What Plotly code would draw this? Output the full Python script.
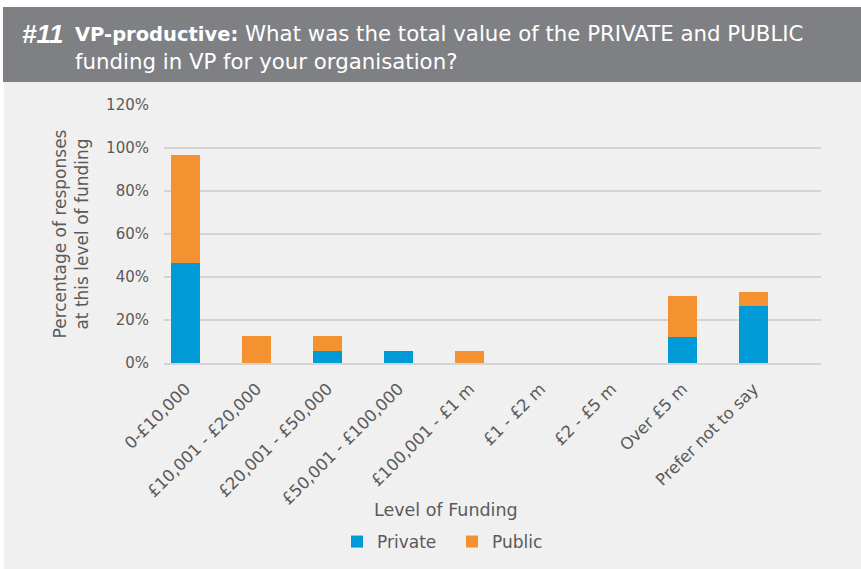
import plotly.graph_objects as go

# Funding bands and share of responses (%) at each level
categories = ["0-£10,000", "£10,001 - £20,000", "£20,001 - £50,000", "£50,001 - £100,000",
              "£100,001 - £1 m", "£1 - £2 m", "£2 - £5 m", "Over £5 m", "Prefer not to say"]
private_pct = [46.7, 0, 5.8, 5.8, 0, 0, 0, 12.3, 26.6]
public_pct = [50.0, 12.7, 6.9, 0, 5.8, 0, 0, 19.0, 6.5]
y_ticks = [0, 20, 40, 60, 80, 100, 120]
y_tick_text = [f"{v}%" for v in y_ticks]

W, H = 861, 569
L, R, T, B = 164, 40, 105, 206
pw, ph = W - L - R, H - T - B

def px(x):
    return (x - L) / pw

def py(y):
    return (H - B - y) / ph

FONT = "DejaVu Sans"
TXT = "#5a5a5a"

fig = go.Figure()
fig.add_trace(go.Bar(name="Private", x=categories, y=private_pct, marker_color="#009bd7",
                     marker_line_width=0))
fig.add_trace(go.Bar(name="Public", x=categories, y=public_pct, marker_color="#f49130",
                     marker_line_width=0))

fig.update_layout(
    width=W, height=H,
    margin=dict(l=L, r=R, t=T, b=B, autoexpand=False),
    barmode="stack", bargap=0.59,
    paper_bgcolor="#f0f0f0", plot_bgcolor="#f0f0f0",
    font=dict(family=FONT, color=TXT, size=15),
    xaxis=dict(range=[-0.303, 8.951], tickangle=-45, tickfont=dict(size=16.5, color=TXT),
               showgrid=False, showline=True, linecolor="#d4d4d4", linewidth=1.5,
               ticks="outside", ticklen=8, tickcolor="rgba(0,0,0,0)", automargin=False),
    yaxis=dict(range=[0, 120], tickvals=y_ticks, ticktext=y_tick_text,
               gridcolor="#d4d4d4", gridwidth=1.5, zeroline=False, automargin=False,
               tickfont=dict(size=15, color=TXT), ticklabelstandoff=14,
               title=dict(text="Percentage of responses<br>at this level of funding",
                          font=dict(size=17, color=TXT), standoff=13)),
    legend=dict(orientation="h", traceorder="normal", x=px(337), y=py(542),
                xanchor="left", yanchor="middle",
                font=dict(size=17, color=TXT), bgcolor="rgba(0,0,0,0)",
                itemwidth=30, tracegroupgap=0,
                entrywidth=70, entrywidthmode="pixels"),
    shapes=[
        # white outer frame strips
        dict(type="rect", xref="paper", yref="paper", x0=px(0), x1=px(W), y0=py(0), y1=py(7),
             fillcolor="white", line_width=0, layer="below"),
        dict(type="rect", xref="paper", yref="paper", x0=px(0), x1=px(4), y0=py(0), y1=py(H),
             fillcolor="white", line_width=0, layer="below"),
        # header band
        dict(type="rect", xref="paper", yref="paper", x0=px(3), x1=px(W), y0=py(7), y1=py(82),
             fillcolor="#7f8084", line_width=0, layer="below"),
    ],
    annotations=[
        dict(text="<b><i>#11</i></b>", xref="paper", yref="paper", x=px(20), y=py(34),
             xanchor="left", yanchor="middle", showarrow=False,
             font=dict(size=26, color="white", family="Liberation Sans")),
        dict(text="<b>VP-productive:</b><span style='font-size:21.3px'> What was the total "
                  "value of the PRIVATE and PUBLIC</span>",
             xref="paper", yref="paper", x=px(73), y=py(34), xanchor="left", yanchor="middle",
             showarrow=False, font=dict(size=19.5, color="white", family=FONT)),
        dict(text="funding in VP for your organisation?",
             xref="paper", yref="paper", x=px(73), y=py(62), xanchor="left", yanchor="middle",
             showarrow=False, font=dict(size=21.3, color="white", family=FONT)),
        dict(text="Level of Funding", xref="paper", yref="paper", x=px(446), y=py(510),
             xanchor="center", yanchor="middle", showarrow=False,
             font=dict(size=17.5, color=TXT, family=FONT)),
    ],
)

fig.write_html("out.html")
